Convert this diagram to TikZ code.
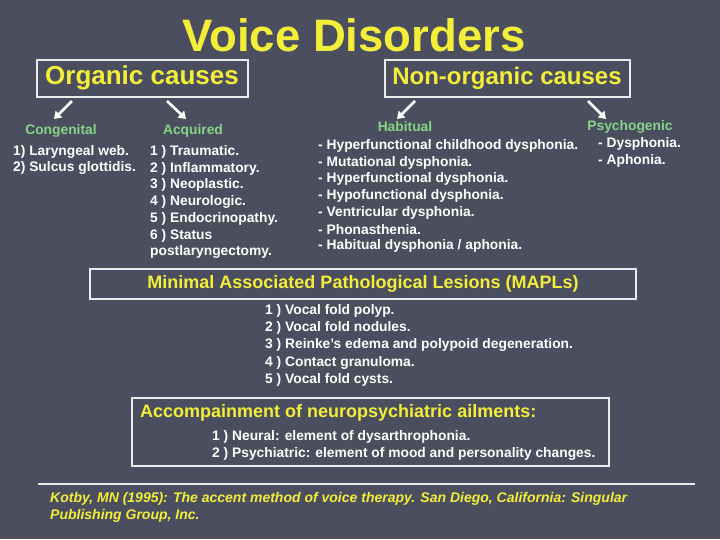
\documentclass[tikz,border=0pt]{standalone}
\usepackage{fontspec}
\setmainfont{Liberation Sans}
\usetikzlibrary{arrows.meta}
\definecolor{bg}{HTML}{4B4E5F}
\definecolor{yel}{HTML}{F2EE3A}
\definecolor{grn}{HTML}{86D486}
\begin{document}
\begin{tikzpicture}[x=1pt,y=-1pt,
  box/.style={draw=white!85!gray,line width=1.5pt},
  t/.style={anchor=west,text=white,font=\fontsize{13.8}{15}\bfseries\selectfont,inner sep=0pt},
  lab/.style={text=grn,font=\fontsize{13.8}{15}\bfseries\selectfont,inner sep=0pt},
  arr/.style={draw=white,line width=2.6pt,-{Triangle[length=7pt,width=9pt]}}]
\fill[bg] (0,0) rectangle (720,539);
\useasboundingbox (0,0) rectangle (720,539);
\node (title) [text=yel,font=\fontsize{45.5}{50}\bfseries\selectfont] at (354,35) {Voice Disorders};
\draw[box] (37,60) rectangle (248,97);
\node (org) [text=yel,font=\fontsize{26}{28}\bfseries\selectfont] at (142,78) {Organic causes};
\draw[box] (385,60) rectangle (630,97);
\node (norg) [text=yel,font=\fontsize{24}{26}\bfseries\selectfont] at (507,78) {Non-organic causes};
\coordinate (a1) at (72,101); \coordinate (b1) at (54,119);
\coordinate (a2) at (167,101); \coordinate (b2) at (186,119);
\coordinate (a3) at (415,101); \coordinate (b3) at (397,119);
\coordinate (a4) at (588,101); \coordinate (b4) at (606,119);
\draw[arr] (a1)--(b1); \draw[arr] (a2)--(b2); \draw[arr] (a3)--(b3); \draw[arr] (a4)--(b4);
\node (cong) [lab] at (61,131) {Congenital};
\node (acq) [lab] at (193,131) {Acquired};
\node (hab) [lab] at (405,127) {Habitual};
\node (psy) [lab] at (630,127) {Psychogenic};
\node (c1) [t] at (13,152) {1) Laryngeal web.};
\node (c2) [t] at (13,168) {2) Sulcus glottidis.};
\foreach \s [count=\i] in {1 ) Traumatic.,2 ) Inflammatory.,3 ) Neoplastic.,4 ) Neurologic.,5 ) Endocrinopathy.,6 ) Status,postlaryngectomy.}
  \node (q\i) [t] at (150,{152+16.7*(\i-1)}) {\s};
\foreach \s [count=\i] in {- Hyperfunctional childhood dysphonia.,- Mutational dysphonia.,- Hyperfunctional dysphonia.,- Hypofunctional dysphonia.,- Ventricular dysphonia.,- Phonasthenia.,- Habitual dysphonia / aphonia.}
  \node (h\i) [t] at (318,{146+16.7*(\i-1)}) {\s};
\node (p1) [t] at (598,144) {- Dysphonia.};
\node (p2) [t] at (598,161) {- Aphonia.};
\draw[box] (90,269) rectangle (636,299);
\node (mapl) [text=yel,font=\fontsize{18}{20}\bfseries\selectfont] at (363,284) {Minimal Associated Pathological Lesions (MAPLs)};
\foreach \s [count=\i] in {1 ) Vocal fold polyp.,2 ) Vocal fold nodules.,3 ) Reinke's edema and polypoid degeneration.,4 ) Contact granuloma.,5 ) Vocal fold cysts.}
  \node (m\i) [t] at (265,{311+17.2*(\i-1)}) {\s};
\draw[box] (132,398) rectangle (609,466);
\node (acc) [anchor=west,inner sep=0pt,text=yel,font=\fontsize{18}{20}\bfseries\selectfont] at (140,413) {Accompainment of neuropsychiatric ailments:};
\node (n1) [t] at (212,437) {1 ) Neural: element of dysarthrophonia.};
\node (n2) [t] at (212,454) {2 ) Psychiatric: element of mood and personality changes.};
\draw[white!85!gray,line width=1.5pt] (38,484) -- (695,484);
\node (ref1) [anchor=west,inner sep=0pt,text=yel,font=\fontsize{14}{16}\bfseries\itshape\selectfont] at (50,499) {Kotby, MN (1995): The accent method of voice therapy. San Diego, California: Singular};
\node (ref2) [anchor=west,inner sep=0pt,text=yel,font=\fontsize{14}{16}\bfseries\itshape\selectfont] at (50,516) {Publishing Group, Inc.};
\end{tikzpicture}
\end{document}
